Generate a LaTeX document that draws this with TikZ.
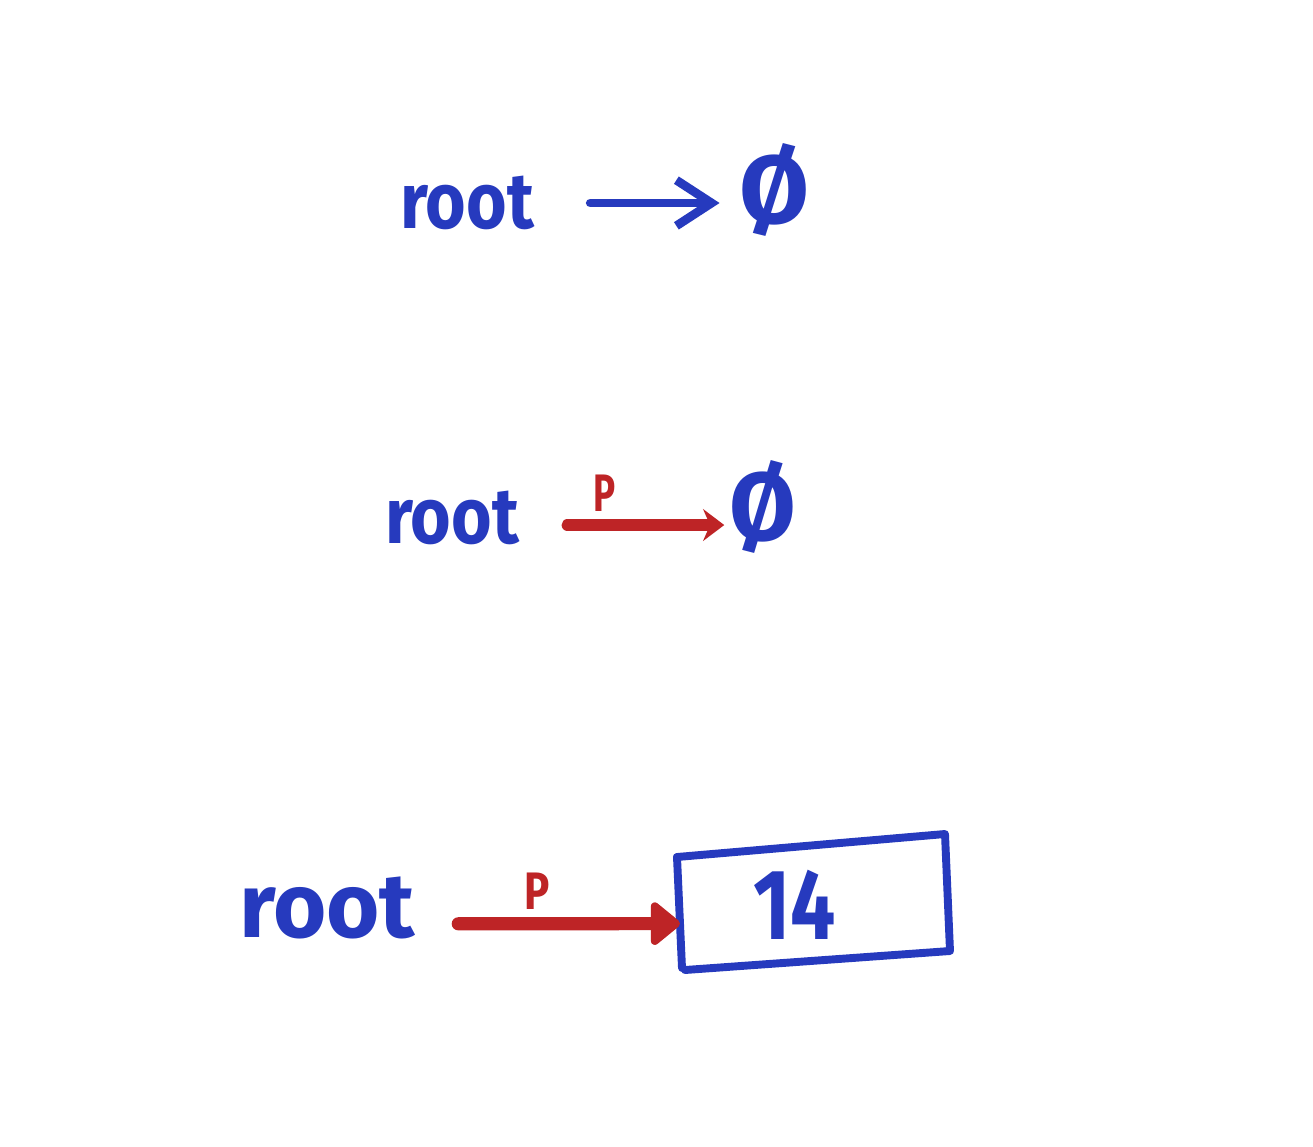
\documentclass[tikz,border=0pt]{standalone}
\usepackage{fontspec}
\setmainfont{Fira Sans}
\usetikzlibrary{arrows.meta,calc}
\definecolor{bluepen}{RGB}{38,58,190}
\definecolor{redpen}{RGB}{190,36,38}
\begin{document}
\begin{tikzpicture}[x=0.02cm,y=-0.02cm,
  word/.style={text=bluepen,inner sep=0pt,font=\fontsize{45}{50}\selectfont\bfseries},
  nul/.style={text=bluepen,inner sep=0pt,font=\fontsize{55}{60}\selectfont\bfseries},
  plabel/.style={text=redpen,inner sep=0pt,font=\fontsize{30}{30}\selectfont\bfseries},
  bluearrow/.style={draw=bluepen,line width=5pt,line cap=round,-{Straight Barb[length=20pt,width=26pt]}},
  redarrow/.style={draw=redpen,line width=6.5pt,line cap=round,-{Stealth[length=12pt,width=18pt]}},
  bigredarrow/.style={draw=redpen,line width=7.5pt,line cap=round,-{Triangle[round,length=18pt,width=28pt]}},
  boxline/.style={draw=bluepen,line width=4.5pt,line cap=round,line join=round}]
\useasboundingbox[fill=white] (0,0) rectangle (1313,1147);

% row 1
\node[word,xscale=0.88] (r1) at (467,203) {root};
\node[nul,xscale=1.05] (n1) at (775,190) {Ø};
\draw[bluearrow,shorten <=1.12cm,shorten >=0.4cm] (r1.east) -- (r1.east -| n1.west);

% row 2
\node[word,xscale=0.88] (r2) at (452,518) {root};
\node[nul] (n2) at (763,507) {Ø};
\node[plabel,xscale=0.7] (p2) at (605,493) {P};
\draw[redarrow,shorten <=0.96cm,shorten >=0.1cm] ([yshift=-4pt]r2.east) -- ([yshift=-4pt]r2.east -| n2.west);

% row 3
\node[word,font=\fontsize{52}{56}\selectfont\bfseries,xscale=1.0] (r3) at (327,908) {root};
\node[word,font=\fontsize{57}{60}\selectfont\bfseries,xscale=0.8] (b3) at (795,905) {14};
\coordinate (c1) at (677,857);
\coordinate (c2) at (945,834);
\coordinate (c3) at (950,951);
\coordinate (c4) at (685,970);
\coordinate (c5) at (682,968);
\draw[boxline] (c1) -- (c2) -- (c3) -- (c4);
\draw[boxline] (c1) -- (c5);
\node[plabel,xscale=0.8] (p3) at (537,891) {P};
\draw[bigredarrow,shorten <=0.86cm] ([yshift=-9pt]r3.east) -- ($(c1)!0.6!(c5)$);
\end{tikzpicture}
\end{document}
